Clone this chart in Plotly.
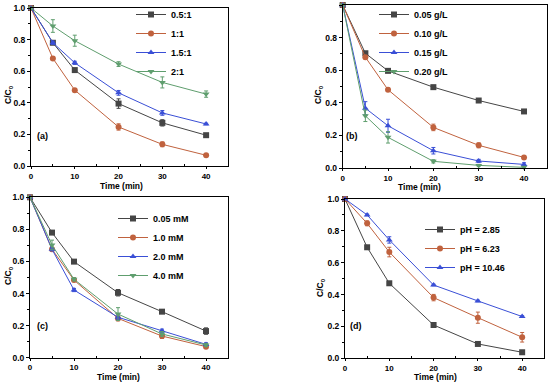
import plotly.graph_objects as go

time_min = [0, 5, 10, 20, 30, 40]

# (a) ratio
a_names = ["0.5:1", "1:1", "1.5:1", "2:1"]
a_vals = [
    [1.0, 0.78, 0.607, 0.395, 0.273, 0.195],
    [1.0, 0.681, 0.48, 0.247, 0.137, 0.068],
    [1.0, 0.78, 0.653, 0.463, 0.336, 0.266],
    [1.0, 0.886, 0.793, 0.645, 0.529, 0.455],
]
a_err = [
    [0, 0.01, 0.01, 0.03, 0.02, 0.01],
    [0, 0.01, 0.01, 0.02, 0.015, 0.005],
    [0, 0.01, 0.01, 0.015, 0.015, 0.005],
    [0, 0.04, 0.035, 0.015, 0.035, 0.02],
]

# (b) dosage
b_names = ["0.05 g/L", "0.10 g/L", "0.15 g/L", "0.20 g/L"]
b_vals = [
    [1.0, 0.704, 0.596, 0.496, 0.414, 0.347],
    [1.0, 0.68, 0.48, 0.249, 0.139, 0.065],
    [1.0, 0.367, 0.259, 0.106, 0.043, 0.022],
    [1.0, 0.32, 0.188, 0.041, 0.016, 0.004],
]
b_err = [
    [0, 0.01, 0.01, 0.01, 0.005, 0.005],
    [0, 0.01, 0.01, 0.02, 0.015, 0.01],
    [0, 0.04, 0.04, 0.02, 0.01, 0.01],
    [0, 0.035, 0.035, 0.01, 0.005, 0.005],
]

# (c) oxidant concentration
c_names = ["0.05 mM", "1.0 mM", "2.0 mM", "4.0 mM"]
c_vals = [
    [1.0, 0.78, 0.599, 0.405, 0.287, 0.166],
    [1.0, 0.676, 0.484, 0.245, 0.135, 0.069],
    [1.0, 0.676, 0.422, 0.252, 0.168, 0.083],
    [1.0, 0.703, 0.489, 0.272, 0.148, 0.079],
]
c_err = [
    [0, 0.005, 0.005, 0.02, 0.005, 0.02],
    [0, 0.01, 0.01, 0.015, 0.015, 0.01],
    [0, 0.01, 0.01, 0.015, 0.01, 0.01],
    [0, 0.03, 0.01, 0.04, 0.015, 0.01],
]

# (d) pH
d_names = ["pH = 2.85", "pH = 6.23", "pH = 10.46"]
d_vals = [
    [1.0, 0.697, 0.471, 0.209, 0.09, 0.038],
    [1.0, 0.847, 0.667, 0.381, 0.255, 0.132],
    [1.0, 0.9, 0.743, 0.46, 0.36, 0.262],
]
d_err = [
    [0, 0.005, 0.005, 0.005, 0.005, 0.005],
    [0, 0.015, 0.03, 0.02, 0.035, 0.03],
    [0, 0.005, 0.02, 0.005, 0.005, 0.005],
]

colors = ["#454545", "#c0623e", "#3a4fd6", "#5f9e6e"]
symbols = ["square", "circle", "triangle-up", "triangle-down"]

FONT = "Liberation Sans, Arial, sans-serif"
W, H = 550, 383

fig = go.Figure()

panels = [
    ("", a_names, a_vals, a_err, "legend"),
    ("2", b_names, b_vals, b_err, "legend2"),
    ("3", c_names, c_vals, c_err, "legend3"),
    ("4", d_names, d_vals, d_err, "legend4"),
]

for suf, names, vals, errs, leg in panels:
    for i, (nm, v, e) in enumerate(zip(names, vals, errs)):
        fig.add_trace(go.Scatter(
            x=time_min, y=v, name=nm, mode="lines+markers",
            xaxis="x" + suf, yaxis="y" + suf, legend=leg,
            line=dict(color=colors[i], width=1),
            marker=dict(symbol=symbols[i], size=6, color=colors[i]),
            error_y=dict(type="data", array=e, color=colors[i], thickness=1, width=2),
            cliponaxis=False,
        ))

# pixel boxes: left, right, top, bottom
boxes = {
    "": (31, 228, 8, 166),
    "2": (342.7, 546.7, 5, 168),
    "3": (30, 228, 197.3, 357.7),
    "4": (345, 544.3, 199, 358.3),
}

xtickfont = dict(family=FONT, size=8, color="black", weight="bold")
ytickfont = dict(family=FONT, size=8.5, color="black", weight="bold")
layout = dict(
    width=W, height=H, margin=dict(l=0, r=0, t=0, b=0, autoexpand=False),
    paper_bgcolor="white", plot_bgcolor="white",
    font=dict(family=FONT, size=9, color="black"),
)
for suf, (l, r, t, b) in boxes.items():
    layout["xaxis" + suf] = dict(
        domain=[l / W, r / W], range=[0, 45], anchor="y" + suf,
        tickvals=[0, 10, 20, 30, 40], showline=True, mirror=True,
        linecolor="black", linewidth=1, ticks="outside", ticklen=2,
        tickcolor="black", showgrid=False, zeroline=False, tickfont=xtickfont,
        minor=dict(tickvals=[5, 15, 25, 35], ticks="inside", ticklen=2, tickcolor="black"),
    )
    layout["yaxis" + suf] = dict(
        domain=[1 - b / H, 1 - t / H], range=[0, 1.0], anchor="x" + suf,
        tickvals=[0, 0.2, 0.4, 0.6, 0.8, 1.0], tickformat=".1f",
        showline=True, mirror=True, linecolor="black", linewidth=1,
        ticks="outside", ticklen=3, tickcolor="black", showgrid=False, zeroline=False,
        tickfont=ytickfont,
        minor=dict(tickvals=[0.1, 0.3, 0.5, 0.7, 0.9], ticks="outside", ticklen=2, tickcolor="black"),
    )

legfont = dict(family=FONT, size=9, color="black", weight="bold")
legpos = {
    "legend": (131 / W, 1.0),
    "legend2": (374 / W, 1.0),
    "legend3": (113 / W, 1 - 204 / H),
    "legend4": (420 / W, 1 - 215 / H),
}
for k, (lx, ly) in legpos.items():
    layout[k] = dict(x=lx, y=ly, xanchor="left", yanchor="top", bgcolor="rgba(0,0,0,0)",
                     font=legfont, itemwidth=30, tracegroupgap=0, borderwidth=0)

fig.update_layout(**layout)

annfont = dict(family=FONT, size=9, color="black", weight="bold")
labels = [("(a)", 35, 136), ("(b)", 344, 136), ("(c)", 35, 326), ("(d)", 348, 326)]
for txt, px, py in labels:
    fig.add_annotation(text=txt, x=px / W, y=1 - py / H, xref="paper", yref="paper",
                       xanchor="left", yanchor="middle", showarrow=False, font=annfont)

xtitles = [(121, 186), (419, 187.5), (118.5, 376.5), (435.7, 377)]
for px, py in xtitles:
    fig.add_annotation(text="Time (min)", x=px / W, y=1 - py / H, xref="paper", yref="paper",
                       xanchor="center", yanchor="middle", showarrow=False,
                       font=dict(family=FONT, size=8.5, color="black", weight="bold"))

ytitles = [(8, 95), (318, 95), (8, 276), (320, 288)]
for px, py in ytitles:
    fig.add_annotation(text="C/C<sub>0</sub>", x=px / W, y=1 - py / H, xref="paper", yref="paper",
                       xanchor="center", yanchor="middle", showarrow=False, textangle=-90,
                       font=dict(family=FONT, size=8.5, color="black", weight="bold"))

fig.write_html("out.html", config={"displayModeBar": False},
               post_script="document.body.style.margin='0';document.body.style.overflow='hidden';")
